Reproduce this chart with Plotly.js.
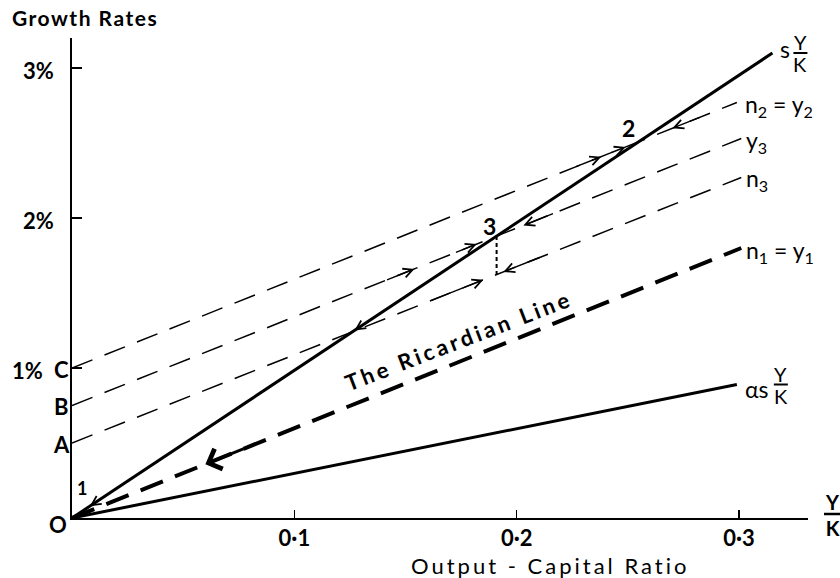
<!DOCTYPE html>
<html>
<head>
<meta charset="utf-8">
<script src="https://cdn.plot.ly/plotly-3.0.1.min.js"></script>
<style>html,body{margin:0;padding:0;background:#fff;}#chart{width:840px;height:578px;}</style>
</head>
<body>
<div id="chart"></div>
<script>
// ---------- data ----------
const xTickVals = [0.1, 0.2, 0.3];
const xTickText = ['0·1', '0·2', '0·3'];
const yTickVals = [1, 2, 3];
const yTickText = ['1%', '2%', '3%'];

// s·Y/K line (solid)
const sX = [0, 0.315];
const sY = [0, 3.10];
// alpha·s·Y/K line (solid)
const asX = [0, 0.299];
const asY = [0, 0.89];
// Ricardian line n1 = y1 (thick dashed)
const ricX = [0, 0.301];
const ricY = [0, 1.80];
// n2 = y2 (from C)
const n2X = [0, 0.299];
const n2Y = [1.00, 2.77];
// y3 (from B)
const y3X = [0, 0.301];
const y3Y = [0.75, 2.53];
// n3 (from A)
const n3X = [0, 0.301];
const n3Y = [0.50, 2.27];

// intercept labels
const interceptLabels = ['C', 'B', 'A'];

// direction arrows along lines (tip x, tail x)
const arrowLine = ['n2', 'n2', 'n2', 'y3', 'y3', 'y3', 'n3', 'n3', 'ric', 's', 's'];
const arrowTipX = [0.238, 0.249, 0.270, 0.203, 0.154, 0.182, 0.185, 0.194, 0.060, 0.127, 0.008];
const arrowTailX = [0.226, 0.242, 0.283, 0.217, 0.141, 0.172, 0.161, 0.211, 0.078, 0.135, 0.014];

// ---------- helpers ----------
const lines = {
  s: [sX, sY], as: [asX, asY], ric: [ricX, ricY],
  n2: [n2X, n2Y], y3: [y3X, y3Y], n3: [n3X, n3Y]
};
function yAt(name, x) {
  const [xs, ys] = lines[name];
  const m = (ys[1] - ys[0]) / (xs[1] - xs[0]);
  return ys[0] + m * (x - xs[0]);
}
function slope(name) { const [xs, ys] = lines[name]; return (ys[1] - ys[0]) / (xs[1] - xs[0]); }
function intersect(a, b) {
  const ma = slope(a), mb = slope(b);
  const ca = lines[a][1][0] - ma * lines[a][0][0];
  const cb = lines[b][1][0] - mb * lines[b][0][0];
  const x = (cb - ca) / (ma - mb);
  return [x, ca + ma * x];
}

const FONT = 'Lato, "Open Sans", sans-serif';
const BLACK = '#000';

const traces = [
  {x: sX, y: sY, mode: 'lines', line: {color: BLACK, width: 3}},
  {x: asX, y: asY, mode: 'lines', line: {color: BLACK, width: 3}},
  {x: ricX, y: ricY, mode: 'lines', line: {color: BLACK, width: 4, dash: '24px,13px'}},
  {x: n2X, y: n2Y, mode: 'lines', line: {color: BLACK, width: 1.5, dash: '22px,13px'}},
  {x: y3X, y: y3Y, mode: 'lines', line: {color: BLACK, width: 1.5, dash: '22px,13px'}},
  {x: n3X, y: n3Y, mode: 'lines', line: {color: BLACK, width: 1.5, dash: '22px,13px'}}
];

const p3 = intersect('s', 'y3');
const p2 = intersect('s', 'n2');
// dotted drop from point 3 to n3
traces.push({x: [p3[0], p3[0]], y: [p3[1], yAt('n3', p3[0])], mode: 'lines',
  line: {color: BLACK, width: 2, dash: '4px,3px'}});

const ann = [];
const shapes = [];
function txt(x, y, text, opts) {
  ann.push(Object.assign({x: x, y: y, xref: 'x', yref: 'y', text: text, showarrow: false,
    font: {family: FONT, size: 23, color: BLACK}}, opts));
}
function frac(x, y, xshift, yshift, size, weight) {
  const f = {family: FONT, size: size, color: BLACK, weight: weight};
  ann.push({x: x, y: y, xref: 'x', yref: 'y', text: 'Y', showarrow: false, font: f,
    xshift: xshift, yshift: yshift + size * 0.55, xanchor: 'center', yanchor: 'middle'});
  ann.push({x: x, y: y, xref: 'x', yref: 'y', text: 'K', showarrow: false, font: f,
    xshift: xshift, yshift: yshift - size * 0.55, xanchor: 'center', yanchor: 'middle'});
  shapes.push({type: 'line', xref: 'x', yref: 'y', xsizemode: 'pixel', ysizemode: 'pixel',
    xanchor: x, yanchor: y, x0: xshift - size * 0.35, x1: xshift + size * 0.35, y0: yshift, y1: yshift,
    line: {color: BLACK, width: 2}});
}

// y tick labels (placed on the y scale; the 1% label makes room for intercept label C)
const interceptVals = [n2Y[0], y3Y[0], n3Y[0]];
yTickVals.forEach((v, i) => {
  const crowded = interceptVals.some(c => Math.abs(c - v) < 1e-9);
  txt(0, v, yTickText[i], {xanchor: 'right', yanchor: 'middle', xshift: crowded ? -27 : -16, yshift: -2,
    font: {family: FONT, size: 22, color: BLACK, weight: 'bold'}});
});

// line end labels
const sEnd = [sX[1], sY[1]];
txt(sEnd[0], sEnd[1], 's', {xanchor: 'left', yanchor: 'middle', xshift: 6, yshift: 4});
frac(sEnd[0], sEnd[1], 28, 0, 20, 'normal');

txt(n2X[1], n2Y[1], 'n<sub>2</sub> = y<sub>2</sub>', {xanchor: 'left', yanchor: 'middle', xshift: 6, yshift: -3});
txt(y3X[1], y3Y[1], 'y<sub>3</sub>', {xanchor: 'left', yanchor: 'middle', xshift: 3, yshift: -3});
txt(n3X[1], n3Y[1], 'n<sub>3</sub>', {xanchor: 'left', yanchor: 'middle', xshift: 3, yshift: -2});
txt(ricX[1], ricY[1], 'n<sub>1</sub> = y<sub>1</sub>', {xanchor: 'left', yanchor: 'middle', xshift: 3, yshift: -3});
txt(asX[1], asY[1], 'αs', {xanchor: 'left', yanchor: 'middle', xshift: 6, yshift: -4});
frac(asX[1], asY[1], 44, 0, 20, 'normal');

// intercept labels
interceptVals.forEach((v, i) => {
  txt(0, v, interceptLabels[i], {xanchor: 'center', yanchor: 'middle', xshift: -11, yshift: -1,
    font: {family: FONT, size: 22, color: BLACK, weight: 'bold'}});
});

// equilibrium points
txt(p2[0], p2[1], '2', {xanchor: 'center', yanchor: 'middle', xshift: -11, yshift: 14, font: {family: FONT, size: 23, color: BLACK, weight: 'bold'}});
txt(p3[0], p3[1], '3', {xanchor: 'center', yanchor: 'middle', xshift: -7, yshift: 10, font: {family: FONT, size: 23, color: BLACK, weight: 'bold'}});
txt(0, 0, '1', {xanchor: 'center', yanchor: 'middle', xshift: 10, yshift: 30, font: {family: FONT, size: 18, color: BLACK, weight: 'bold'}});
txt(0, 0, 'O', {xanchor: 'center', yanchor: 'middle', xshift: -14, yshift: -6, font: {family: FONT, size: 22, color: BLACK, weight: 'bold'}});

// Ricardian label
const rx = 0.1736;
txt(rx, yAt('ric', rx), '<span style="letter-spacing:3.4px">The Ricardian Line</span>', {xanchor: 'center', yanchor: 'middle', xshift: 0, yshift: 22,
  textangle: -21, font: {family: FONT, size: 22, color: BLACK, weight: 'bold'}});

// arrows
arrowLine.forEach((ln, i) => {
  const big = ln === 'ric';
  ann.push({x: arrowTipX[i], y: yAt(ln, arrowTipX[i]), ax: arrowTailX[i], ay: yAt(ln, arrowTailX[i]),
    xref: 'x', yref: 'y', axref: 'x', ayref: 'y', text: '', showarrow: true,
    arrowhead: big ? 4 : 5, arrowsize: big ? 1.4 : 1.3, arrowwidth: big ? 3 : 1.4, arrowcolor: BLACK, standoff: 0, startstandoff: 0});
});

// titles
ann.push({xref: 'paper', yref: 'paper', x: 0, y: 1, xshift: -62, yshift: 21, xanchor: 'left', yanchor: 'middle',
  text: '<span style="letter-spacing:1.5px">Growth Rates</span>', showarrow: false, font: {family: FONT, size: 21, color: BLACK, weight: 'bold'}});
ann.push({xref: 'paper', yref: 'paper', x: 0.649, y: 0, yshift: -47, xanchor: 'center', yanchor: 'middle',
  text: '<span style="letter-spacing:3px">Output - Capital Ratio</span>', showarrow: false, font: {family: FONT, size: 22, color: BLACK}});
// x-axis variable Y/K as a stacked fraction
ann.push({xref: 'paper', yref: 'paper', x: 1, y: 0, xshift: 24, yshift: 3, xanchor: 'center', yanchor: 'middle',
  text: 'Y<br>K', showarrow: false, font: {family: FONT, size: 20, color: BLACK, weight: 'bold'}});
shapes.push({type: 'line', xref: 'paper', yref: 'paper', xsizemode: 'pixel', ysizemode: 'pixel', xanchor: 1, yanchor: 0,
  x0: 16, x1: 32, y0: 4, y1: 4, line: {color: BLACK, width: 2.5}});

const layout = {
  width: 840, height: 578,
  margin: {l: 72, r: 32, t: 38, b: 60},
  paper_bgcolor: '#fff', plot_bgcolor: '#fff',
  showlegend: false,
  font: {family: FONT, color: BLACK},
  xaxis: {range: [0, 0.331], showgrid: false, zeroline: false, showline: true, linecolor: BLACK, linewidth: 2,
    tickvals: xTickVals, ticktext: xTickText, ticks: 'inside', ticklen: 8, tickwidth: 1.5, tickcolor: BLACK,
    tickfont: {family: FONT, size: 22, color: BLACK, weight: 'bold'}},
  yaxis: {range: [0, 3.2], showgrid: false, zeroline: false, showline: true, linecolor: BLACK, linewidth: 2,
    tickvals: yTickVals, showticklabels: false, ticks: 'inside', ticklen: 10, tickwidth: 1.5, tickcolor: BLACK},
  annotations: ann,
  shapes: shapes
};

Plotly.newPlot('chart', traces, layout, {staticPlot: true, displayModeBar: false});
</script>
</body>
</html>
